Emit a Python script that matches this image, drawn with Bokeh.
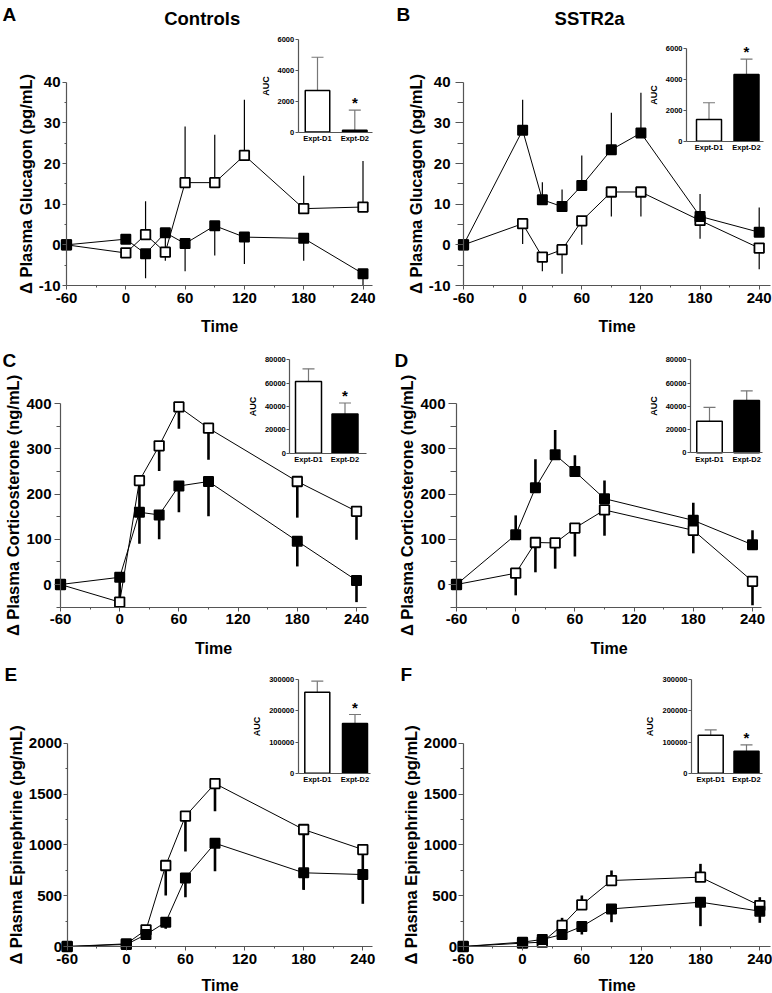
from bokeh.plotting import figure
from bokeh.models import Range1d, LinearAxis, FixedTicker, Label, BasicTickFormatter
from bokeh.layouts import column, row
from bokeh.embed import file_html
from bokeh.resources import INLINE
from bokeh.core.properties import value

FONT = "Liberation Sans"

# ---------------- data ----------------
TIME_AB = [-60, 0, 20, 40, 60, 90, 120, 180, 240]
TIME_CF = [-60, 0, 20, 40, 60, 90, 180, 240]
TIME_TICKS = [-60, 0, 60, 120, 180, 240]
TIME_MINOR = [-30, 30, 90, 150, 210]
INSET_LABELS = ["Expt-D1", "Expt-D2"]

# A: Controls, glucagon (open = Expt-D1, filled = Expt-D2)
A_D1 = [0, -2.0, 2.5, -1.8, 15.3, 15.3, 22.0, 8.9, 9.3]
A_D1_ERR = [0, 0, 8.2, 0, 13.8, 11.8, 13.7, 8.1, 11.3]
A_D2 = [0, 1.4, -2.2, 3.0, 0.3, 4.7, 1.9, 1.6, -7.1]
A_D2_ERR = [0, 0, 6.0, 6.9, 6.8, 7.3, 6.6, 5.5, 2.9]
A_AUC = [2700, 120]
A_AUC_ERR = [2150, 1300]
A_STAR = [False, True]

# B: SSTR2a, glucagon
B_D1 = [0, 5.2, -3.0, -1.2, 5.9, 13.0, 13.0, 6.0, -0.8]
B_D1_ERR = [0, 5.0, 3.5, 5.9, 5.9, 6.0, 6.0, 4.5, 5.2]
B_D2 = [0, 28.2, 11.1, 9.4, 14.6, 23.4, 27.5, 7.0, 3.1]
B_D2_ERR = [0, 7.5, 4.3, 4.2, 7.4, 9.1, 9.9, 5.5, 6.1]
B_AUC = [1400, 4300]
B_AUC_ERR = [1080, 1000]
B_STAR = [False, True]

# C: Controls, corticosterone
C_D1 = [0, -39, 230, 307, 393, 346, 228, 162]
C_D1_ERR = [0, 5, 70, 56, 48, 70, 80, 63]
C_D2 = [0, 16, 160, 154, 218, 228, 96, 9]
C_D2_ERR = [0, 62, 70, 54, 58, 77, 56, 48]
C_AUC = [61500, 33500]
C_AUC_ERR = [10800, 9500]
C_STAR = [False, True]

# D: SSTR2a, corticosterone
D_D1 = [0, 25, 93, 92, 125, 165, 120, 7]
D_D1_ERR = [0, 49, 66, 57, 63, 57, 51, 53]
D_D2 = [0, 110, 214, 287, 250, 190, 142, 88]
D_D2_ERR = [0, 43, 63, 55, 36, 40, 39, 32]
D_AUC = [27200, 45000]
D_AUC_ERR = [11800, 8300]
D_STAR = [False, False]

# E: Controls, epinephrine
E_D1 = [0, 26, 164, 797, 1282, 1603, 1151, 954]
E_D1_ERR = [0, 0, 40, 295, 348, 272, 590, 240]
E_D2 = [0, 20, 118, 239, 675, 1016, 725, 708]
E_D2_ERR = [0, 0, 52, 65, 190, 275, 168, 288]
E_AUC = [260000, 160000]
E_AUC_ERR = [35500, 28500]
E_STAR = [False, True]

# F: SSTR2a, epinephrine
F_D1 = [0, 33, 43, 207, 410, 649, 682, 403]
F_D1_ERR = [0, 0, 0, 75, 92, 99, 131, 82]
F_D2 = [0, 43, 69, 118, 197, 370, 436, 348]
F_D2_ERR = [0, 0, 0, 43, 79, 131, 236, 115]
F_AUC = [122000, 70700]
F_AUC_ERR = [17000, 20300]
F_STAR = [False, True]

GLU_TICKS = [-10, 0, 10, 20, 30, 40]
GLU_MINOR = [-5, 5, 15, 25, 35]
CORT_TICKS = [0, 100, 200, 300, 400]
CORT_MINOR = [-50, 50, 150, 250, 350]
EPI_TICKS = [0, 500, 1000, 1500, 2000]
EPI_MINOR = [250, 750, 1250, 1750]
AUC_GLU_TICKS = [0, 2000, 4000, 6000]
AUC_CORT_TICKS = [0, 20000, 40000, 60000, 80000]
AUC_EPI_TICKS = [0, 100000, 200000, 300000]

GLU_LABEL = "\u0394 Plasma Glucagon (pg/mL)"
CORT_LABEL = "\u0394 Plasma Corticosterone (ng/mL)"
EPI_LABEL = "\u0394 Plasma Epinephrine (pg/mL)"

# ---------------- layout (page pixel geometry) ----------------
PANELS = [
    dict(letter="A", title="Controls", time=TIME_AB, d1=A_D1, e1=A_D1_ERR, s1=1, d2=A_D2, e2=A_D2_ERR, s2=-1,
         auc=A_AUC, auc_err=A_AUC_ERR, star=A_STAR, ylabel=GLU_LABEL, yt=GLU_TICKS, ym=GLU_MINOR, at=AUC_GLU_TICKS,
         origin=(0, 0), size=(386, 334), axes=(66, 372, 285), x_px=(66, 362.5), y_px=(285, 81.7), y_val=(-10, 40),
         ins_axis=297.7, ins_c=(317, 354.3), ins_w=24.5, ins_right=372, ins_y=(131.5, 39.0),
         tick_out=4, standoff=2, xlab=12, thick=1.2, letter_xy=(2, 13.5), title_xy=(201.7, 17.5)),
    dict(letter="B", title="SSTR2a", time=TIME_AB, d1=B_D1, e1=B_D1_ERR, s1=-1, d2=B_D2, e2=B_D2_ERR, s2=1,
         auc=B_AUC, auc_err=B_AUC_ERR, star=B_STAR, ylabel=GLU_LABEL, yt=GLU_TICKS, ym=GLU_MINOR, at=AUC_GLU_TICKS,
         origin=(386, 0), size=(386, 334), axes=(463, 770, 285), x_px=(463, 758.7), y_px=(285, 81.7), y_val=(-10, 40),
         ins_axis=686, ins_c=(708.5, 746), ins_w=25, ins_right=763, ins_y=(140.7, 47.7),
         tick_out=8, standoff=5, xlab=12, thick=1.2, letter_xy=(396, 13.5), title_xy=(589, 17.5)),
    dict(letter="C", title=None, time=TIME_CF, d1=C_D1, e1=C_D1_ERR, s1=-1, d2=C_D2, e2=C_D2_ERR, s2=-1,
         auc=C_AUC, auc_err=C_AUC_ERR, star=C_STAR, ylabel=CORT_LABEL, yt=CORT_TICKS, ym=CORT_MINOR, at=AUC_CORT_TICKS,
         origin=(0, 334), size=(386, 321), axes=(60, 366, 606.6), x_px=(60, 356), y_px=(584, 403.3), y_val=(0, 400),
         ins_axis=289.3, ins_c=(308, 344.5), ins_w=26, ins_right=366, ins_y=(452.7, 359.3),
         tick_out=6, standoff=3, xlab=12, thick=2.6, letter_xy=(2, 360), title_xy=None),
    dict(letter="D", title=None, time=TIME_CF, d1=D_D1, e1=D_D1_ERR, s1=-1, d2=D_D2, e2=D_D2_ERR, s2=1,
         auc=D_AUC, auc_err=D_AUC_ERR, star=D_STAR, ylabel=CORT_LABEL, yt=CORT_TICKS, ym=CORT_MINOR, at=AUC_CORT_TICKS,
         origin=(386, 334), size=(386, 321), axes=(456, 761, 606.6), x_px=(456, 752), y_px=(584, 403.3), y_val=(0, 400),
         ins_axis=690, ins_c=(709, 746.2), ins_w=25.5, ins_right=762, ins_y=(452.3, 359.3),
         tick_out=8, standoff=3, xlab=12, thick=2.6, letter_xy=(394, 360), title_xy=None),
    dict(letter="E", title=None, time=TIME_CF, d1=E_D1, e1=E_D1_ERR, s1=-1, d2=E_D2, e2=E_D2_ERR, s2=-1,
         auc=E_AUC, auc_err=E_AUC_ERR, star=E_STAR, ylabel=EPI_LABEL, yt=EPI_TICKS, ym=EPI_MINOR, at=AUC_EPI_TICKS,
         origin=(0, 655), size=(386, 338), axes=(66.7, 372, 946), x_px=(66.7, 362.3), y_px=(946, 742.7), y_val=(0, 2000),
         ins_axis=297.7, ins_c=(316.8, 354.5), ins_w=25, ins_right=370, ins_y=(772.7, 679.3),
         tick_out=4, standoff=1, xlab=10, thick=2.6, letter_xy=(4, 674), title_xy=None),
    dict(letter="F", title=None, time=TIME_CF, d1=F_D1, e1=F_D1_ERR, s1=1, d2=F_D2, e2=F_D2_ERR, s2=-1,
         auc=F_AUC, auc_err=F_AUC_ERR, star=F_STAR, ylabel=EPI_LABEL, yt=EPI_TICKS, ym=EPI_MINOR, at=AUC_EPI_TICKS,
         origin=(386, 655), size=(386, 338), axes=(462.7, 770, 946), x_px=(462.7, 759.3), y_px=(946, 742.7), y_val=(0, 2000),
         ins_axis=691, ins_c=(710.2, 746), ins_w=25, ins_right=762, ins_y=(772.7, 679.3),
         tick_out=5, standoff=1, xlab=10, thick=2.6, letter_xy=(400, 674), title_xy=None),
]

AXIS_COLOR = "#555555"


def lin(p1, v1, p2, v2):
    k = (v2 - v1) / (p2 - p1)
    return lambda p: v1 + (p - p1) * k


def style_axis(ax, size, tick_out, standoff):
    ax.axis_line_color = AXIS_COLOR
    ax.axis_line_width = 1.2
    ax.major_tick_line_color = AXIS_COLOR
    ax.minor_tick_line_color = AXIS_COLOR
    ax.major_tick_out = int(tick_out)
    ax.major_tick_in = 0
    ax.minor_tick_out = int(max(0, tick_out - 2))
    ax.minor_tick_in = 0
    ax.major_label_standoff = int(standoff)
    ax.major_label_text_font = FONT
    ax.major_label_text_font_style = "bold"
    ax.major_label_text_font_size = size
    ax.major_label_text_color = "black"
    ax.axis_label_text_font = FONT
    ax.axis_label_text_font_style = "bold"
    ax.axis_label_text_color = "black"


def hyphen_labels(ticks):
    return {t: ("-" + str(abs(t))) for t in ticks if t < 0}


def make_panel(s):
    ox, oy = s["origin"]
    W, H = s["size"]
    fl, fr, ft, fb = ox, ox + W, oy, oy + H          # frame covers the whole figure
    ax_left, ax_right, ax_bottom = s["axes"]
    xm = lin(s["x_px"][0], -60, s["x_px"][1], 240)
    ym = lin(s["y_px"][0], s["y_val"][0], s["y_px"][1], s["y_val"][1])
    p = figure(width=W, height=H, x_range=Range1d(xm(fl), xm(fr)), y_range=Range1d(ym(fb), ym(ft)),
               min_border=0, toolbar_location=None, tools="", output_backend="svg")
    p.outline_line_color = None
    p.xgrid.visible = False
    p.ygrid.visible = False
    p.background_fill_color = "white"
    p.border_fill_color = "white"

    y_axis_val = ym(ax_bottom)
    xa = p.xaxis[0]
    ya = p.yaxis[0]
    style_axis(xa, "15px", 4, 3)
    style_axis(ya, "15px", s["tick_out"], s["standoff"])
    xa.fixed_location = y_axis_val
    xa.bounds = (-60, xm(ax_right))
    xa.ticker = FixedTicker(ticks=TIME_TICKS, minor_ticks=TIME_MINOR)
    xa.major_label_overrides = hyphen_labels(TIME_TICKS)
    xa.axis_label = "Time"
    xa.axis_label_text_font_size = "16px"
    xa.axis_label_standoff = s["xlab"]

    ya.fixed_location = -60
    ya.bounds = (y_axis_val, s["yt"][-1])
    ya.ticker = FixedTicker(ticks=s["yt"], minor_ticks=s["ym"])
    ya.major_label_overrides = hyphen_labels(s["yt"])
    ya.axis_label = s["ylabel"]
    ya.axis_label_text_font_size = "16.5px"
    ya.axis_label_standoff = 1

    t = s["time"]
    # lines and one-sided error bars
    for vals, errs, sgn in ((s["d1"], s["e1"], s["s1"]), (s["d2"], s["e2"], s["s2"])):
        p.line(t, vals, line_color="black", line_width=1)
        ends = [v + sgn * e for v, e in zip(vals, errs)]
        p.segment(x0=t, y0=vals, x1=t, y1=ends, line_color="black", line_width=s["thick"])
    p.scatter(t, s["d1"], marker="square", size=9.5, fill_color="white", line_color="black", line_width=1.8)
    p.scatter(t, s["d2"], marker="square", size=9.5, fill_color="black", line_color="black", line_width=1.5)

    # ---- inset AUC bar chart ----
    c1, c2 = s["ins_c"]
    ixm = lin(c1, 1, c2, 2)
    atop = s["at"][-1]
    iym = lin(s["ins_y"][0], 0, s["ins_y"][1], atop)
    p.extra_x_ranges = {"ix": Range1d(ixm(fl), ixm(fr))}
    p.extra_y_ranges = {"iy": Range1d(iym(fb), iym(ft))}
    unit = c2 - c1
    xs = list(range(1, len(INSET_LABELS) + 1))
    auc, aerr = s["auc"], s["auc_err"]
    tops = [a + e for a, e in zip(auc, aerr)]
    cw = 6.0 / unit
    p.segment(x0=xs, y0=auc, x1=xs, y1=tops, line_color="#777777", line_width=1.2,
              x_range_name="ix", y_range_name="iy")
    p.segment(x0=[x - cw for x in xs], y0=tops, x1=[x + cw for x in xs], y1=tops, line_color="#777777",
              line_width=1.2, x_range_name="ix", y_range_name="iy")
    p.vbar(x=xs, top=auc, bottom=0, width=s["ins_w"] / unit, fill_color=["white", "black"],
           line_color="black", line_width=1.5, x_range_name="ix", y_range_name="iy")
    sx = [x for x, st in zip(xs, s["star"]) if st]
    sy = [tp for tp, st in zip(tops, s["star"]) if st]
    if sx:
        p.text(x=sx, y=sy, text=["*"] * len(sx), text_font=value(FONT), text_font_style="bold",
               text_font_size="15px", text_align="center", text_baseline="bottom", y_offset=1,
               text_color="black", x_range_name="ix", y_range_name="iy")

    iya = LinearAxis(x_range_name="ix", y_range_name="iy", fixed_location=ixm(s["ins_axis"]),
                     bounds=(0, atop), ticker=FixedTicker(ticks=s["at"], minor_ticks=[]),
                     formatter=BasicTickFormatter(use_scientific=False))
    style_axis(iya, "7.5px", 3, 1)
    iya.axis_label = "AUC"
    iya.axis_label_text_font_size = "9px"
    iya.axis_label_standoff = 4
    p.add_layout(iya, "left")

    ixa = LinearAxis(x_range_name="ix", y_range_name="iy", fixed_location=0,
                     bounds=(ixm(s["ins_axis"]), ixm(s["ins_right"])), ticker=FixedTicker(ticks=xs, minor_ticks=[]),
                     major_label_overrides={x: lab for x, lab in zip(xs, INSET_LABELS)})
    style_axis(ixa, "7.5px", 0, 2)
    p.add_layout(ixa, "below")

    # panel letter and column title
    lx, ly = s["letter_xy"]
    p.add_layout(Label(x=lx - fl, y=fb - ly, x_units="screen", y_units="screen", text=s["letter"],
                       text_font=FONT, text_font_style="bold", text_font_size="19px", text_color="black",
                       text_align="left", text_baseline="alphabetic"))
    if s["title"]:
        tx, ty = s["title_xy"]
        p.add_layout(Label(x=tx - fl, y=fb - ty, x_units="screen", y_units="screen", text=s["title"],
                           text_font=FONT, text_font_style="bold", text_font_size="18.5px", text_color="black",
                           text_align="center", text_baseline="alphabetic"))
    return p


figs = [make_panel(s) for s in PANELS]
layout = column(row(figs[0], figs[1]), row(figs[2], figs[3]), row(figs[4], figs[5]))

open("out.html", "w").write(file_html(layout, INLINE))
